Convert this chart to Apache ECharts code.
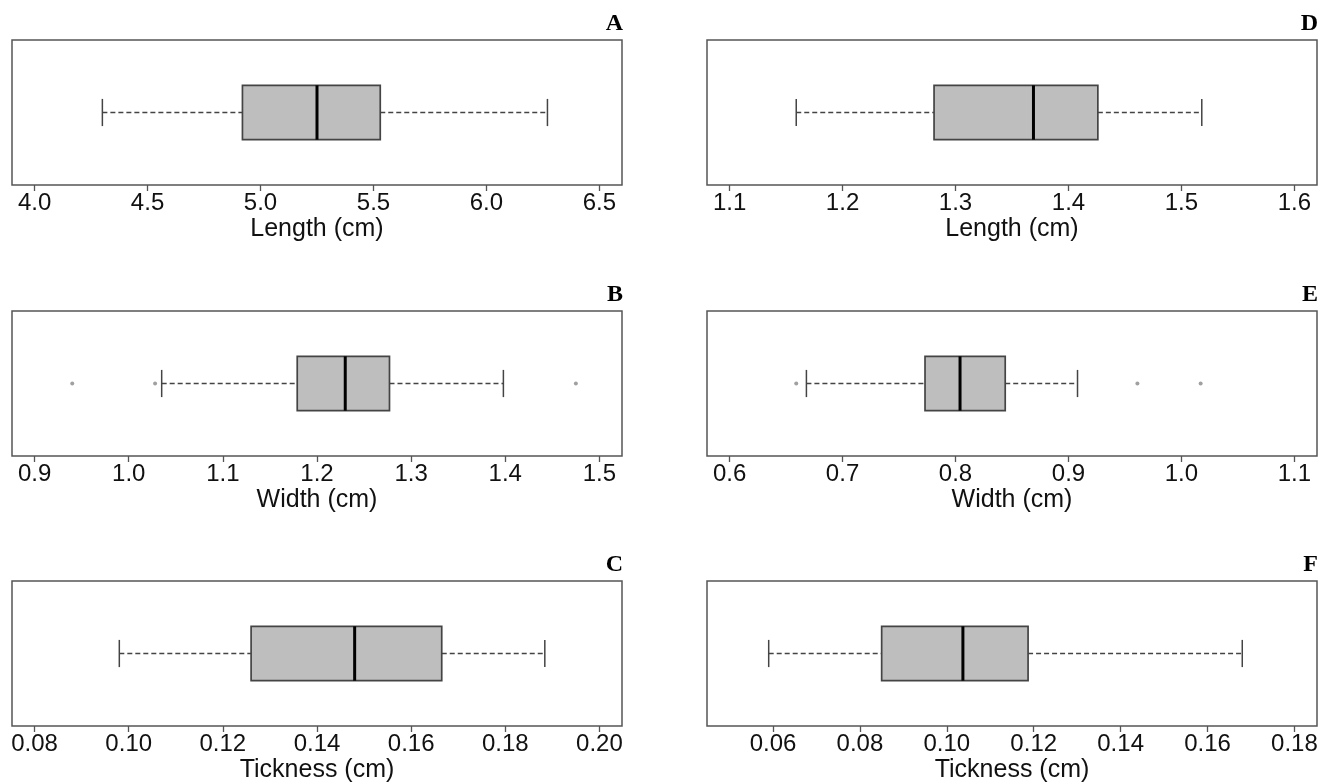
<!DOCTYPE html>
<html>
<head>
<meta charset="utf-8">
<script src="https://cdn.jsdelivr.net/npm/echarts@6/dist/echarts.min.js"></script>
<style>
html,body{margin:0;padding:0;background:#fff;}
#chart{width:1319px;height:782px;}
</style>
</head>
<body>
<div id="chart"></div>
<script>
// ---- data ----
const panelLetters = ['A', 'B', 'C', 'D', 'E', 'F'];
const axisTitles = ['Length (cm)', 'Width (cm)', 'Tickness (cm)', 'Length (cm)', 'Width (cm)', 'Tickness (cm)'];
// five-number summaries: [lower whisker, Q1, median, Q3, upper whisker]
const statsA = [4.30, 4.92, 5.25, 5.53, 6.27];
const statsB = [1.035, 1.179, 1.230, 1.277, 1.398];
const statsC = [0.098, 0.126, 0.148, 0.1665, 0.1884];
const statsD = [1.159, 1.281, 1.369, 1.426, 1.518];
const statsE = [0.668, 0.773, 0.804, 0.844, 0.908];
const statsF = [0.059, 0.085, 0.1037, 0.1187, 0.168];
// outliers
const outliersA = [];
const outliersB = [0.940, 1.028, 1.475];
const outliersC = [];
const outliersD = [];
const outliersE = [0.659, 0.961, 1.017];
const outliersF = [];
// axis limits (xlim) and tick labels
const limitsA = [4.0, 6.5];
const limitsB = [0.9, 1.5];
const limitsC = [0.08, 0.20];
const limitsD = [1.1, 1.6];
const limitsE = [0.6, 1.1];
const limitsF = [0.05, 0.18];
const ticksA = [4.0, 4.5, 5.0, 5.5, 6.0, 6.5];
const ticksB = [0.9, 1.0, 1.1, 1.2, 1.3, 1.4, 1.5];
const ticksC = [0.08, 0.10, 0.12, 0.14, 0.16, 0.18, 0.20];
const ticksD = [1.1, 1.2, 1.3, 1.4, 1.5, 1.6];
const ticksE = [0.6, 0.7, 0.8, 0.9, 1.0, 1.1];
const ticksF = [0.06, 0.08, 0.10, 0.12, 0.14, 0.16, 0.18];
const decimals = [1, 1, 2, 1, 1, 2];

const stats = [statsA, statsB, statsC, statsD, statsE, statsF];
const outliers = [outliersA, outliersB, outliersC, outliersD, outliersE, outliersF];
const limits = [limitsA, limitsB, limitsC, limitsD, limitsE, limitsF];
const ticks = [ticksA, ticksB, ticksC, ticksD, ticksE, ticksF];

// ---- layout ----
const gridLefts = [12, 707];
const gridTops = [40, 311, 581];
const gridW = 610, gridH = 145;
const frameColor = '#555';

const grids = [], xAxes = [], yAxes = [], series = [], graphics = [];

for (let i = 0; i < 6; i++) {
  const col = i < 3 ? 0 : 1;
  const row = i % 3;
  const left = gridLefts[col], top = gridTops[row];
  grids.push({
    left: left, top: top, width: gridW, height: gridH,
    containLabel: false, outerBoundsMode: 'none',
    show: true, borderColor: frameColor, borderWidth: 1.5, backgroundColor: 'transparent'
  });
  const lo = limits[i][0], hi = limits[i][1];
  const ext = (hi - lo) * 0.04;
  const dec = decimals[i];
  xAxes.push({
    gridIndex: i, type: 'value',
    min: lo - ext, max: hi + ext,
    axisLine: { show: false },
    splitLine: { show: false },
    axisTick: { show: true, customValues: ticks[i], length: 6, lineStyle: { color: frameColor, width: 1.3 } },
    axisLabel: {
      show: true, customValues: ticks[i], margin: 6,
      fontFamily: 'Liberation Sans, Arial, sans-serif', fontSize: 24, color: '#111',
      formatter: v => Number(v).toFixed(dec)
    },
    name: axisTitles[i], nameLocation: 'middle', nameGap: 32,
    nameTextStyle: { fontFamily: 'Liberation Sans, Arial, sans-serif', fontSize: 25, color: '#111' }
  });
  yAxes.push({
    gridIndex: i, type: 'category', data: [panelLetters[i]],
    show: false, axisTick: { show: false }, axisLabel: { show: false }, axisLine: { show: false }
  });
  series.push({
    type: 'custom', xAxisIndex: i, yAxisIndex: i,
    data: [[0].concat(stats[i])],
    encode: { x: [1, 2, 3, 4, 5], y: 0 },
    renderItem: function (params, api) {
      const wLo = api.value(1), q1 = api.value(2), med = api.value(3), q3 = api.value(4), wHi = api.value(5);
      const cy = api.coord([q1, 0])[1];
      const band = api.size([0, 1])[1];
      const bh = band * 0.375;
      const cap = bh * 0.5;
      const X = v => api.coord([v, 0])[0];
      const dash = { stroke: '#444', lineWidth: 1.6, lineDash: [5, 3] };
      const solid = { stroke: '#444', lineWidth: 1.5 };
      return {
        type: 'group',
        children: [
          { type: 'line', shape: { x1: X(wLo), y1: cy, x2: X(q1), y2: cy }, style: dash },
          { type: 'line', shape: { x1: X(q3), y1: cy, x2: X(wHi), y2: cy }, style: dash },
          { type: 'line', shape: { x1: X(wLo), y1: cy - cap / 2, x2: X(wLo), y2: cy + cap / 2 }, style: solid },
          { type: 'line', shape: { x1: X(wHi), y1: cy - cap / 2, x2: X(wHi), y2: cy + cap / 2 }, style: solid },
          { type: 'rect', shape: { x: X(q1), y: cy - bh / 2, width: X(q3) - X(q1), height: bh },
            style: { fill: '#bebebe', stroke: '#444', lineWidth: 1.7 } },
          { type: 'line', shape: { x1: X(med), y1: cy - bh / 2, x2: X(med), y2: cy + bh / 2 },
            style: { stroke: '#000', lineWidth: 3 } }
        ]
      };
    },
    silent: true, animation: false
  });
  if (outliers[i].length) {
    series.push({
      type: 'scatter', xAxisIndex: i, yAxisIndex: i,
      data: outliers[i].map(v => [v, 0]),
      symbol: 'circle', symbolSize: 4,
      itemStyle: { color: '#888' },
      silent: true, animation: false
    });
  }
  graphics.push({
    type: 'text',
    x: left + gridW + 1, y: top - 16,
    style: {
      text: panelLetters[i], align: 'right', verticalAlign: 'middle',
      font: 'bold 24px "Liberation Serif", "Times New Roman", serif', fill: '#000'
    }
  });
}

const chart = echarts.init(document.getElementById('chart'), null, { renderer: 'canvas' });
chart.setOption({
  backgroundColor: '#fff',
  animation: false,
  grid: grids,
  xAxis: xAxes,
  yAxis: yAxes,
  series: series,
  graphic: graphics
});
</script>
</body>
</html>
